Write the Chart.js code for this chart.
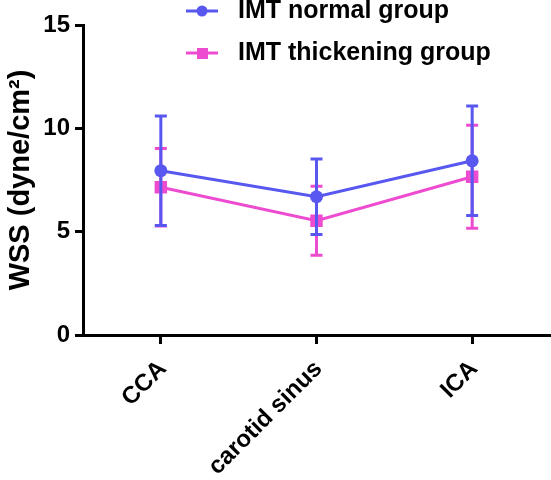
<!DOCTYPE html>
<html lang="en">
<head>
  <meta charset="UTF-8" />
  <script src="https://cdn.jsdelivr.net/npm/chart.js"></script>
  <title>WSS by carotid segment</title>
  <style>
    body { margin: 0; background: #fff; }
  </style>
</head>
<body>
  <canvas id="chart" width="551" height="480"></canvas>
  <script>
    const categories = ['CCA', 'carotid sinus', 'ICA'];
    const normalMean = [7.95, 6.69, 8.43];
    const normalSD = [2.65, 1.83, 2.65];
    const thickMean = [7.15, 5.53, 7.66];
    const thickSD = [1.88, 1.67, 2.49];
    const yTicks = [0, 5, 10, 15];
    const seriesNames = ['IMT normal group', 'IMT thickening group'];

    const BLUE = '#5858f0';
    const PINK = '#ee4cd0';
    const FONT = 'Liberation Sans, Arial, sans-serif';

    // error bars drawn right before each dataset, so the later series sits on top
    const errorBars = {
      id: 'errorBars',
      beforeDatasetDraw(chart, args) {
        const ds = chart.data.datasets[args.index];
        const y = chart.scales.y;
        const ctx = chart.ctx;
        ctx.save();
        ctx.strokeStyle = ds.borderColor;
        ctx.lineWidth = 3;
        args.meta.data.forEach((pt, i) => {
          const top = y.getPixelForValue(ds.data[i] + ds.sd[i]);
          const bot = y.getPixelForValue(ds.data[i] - ds.sd[i]);
          ctx.beginPath();
          ctx.moveTo(pt.x, top); ctx.lineTo(pt.x, bot);
          ctx.moveTo(pt.x - 6, top); ctx.lineTo(pt.x + 6, top);
          ctx.moveTo(pt.x - 6, bot); ctx.lineTo(pt.x + 6, bot);
          ctx.stroke();
        });
        ctx.restore();
      }
    };

    // legend sits over the top of the plot, like in the figure
    const floatLegend = {
      id: 'floatLegend',
      afterDraw(chart) {
        const ctx = chart.ctx;
        const rows = [11, 53];
        ctx.save();
        chart.data.datasets.forEach((ds, i) => {
          const y = rows[i];
          ctx.strokeStyle = ds.borderColor;
          ctx.fillStyle = ds.borderColor;
          ctx.lineWidth = 3;
          ctx.beginPath();
          ctx.moveTo(186, y); ctx.lineTo(218, y);
          ctx.stroke();
          if (ds.pointStyle === 'rect') {
            ctx.fillRect(197, y - 5, 11, 11);
          } else {
            ctx.beginPath();
            ctx.arc(202, y, 5.5, 0, Math.PI * 2);
            ctx.fill();
          }
          ctx.fillStyle = '#000';
          ctx.font = 'bold 25px ' + FONT;
          ctx.textBaseline = 'middle';
          ctx.fillText(ds.label, 238, y);
        });
        ctx.restore();
      }
    };

    new Chart(document.getElementById('chart'), {
      type: 'line',
      data: {
        labels: categories,
        datasets: [
          {
            label: seriesNames[0],
            data: normalMean,
            sd: normalSD,
            borderColor: BLUE,
            backgroundColor: BLUE,
            borderWidth: 3,
            pointStyle: 'circle',
            pointRadius: 6.5,
            pointBorderWidth: 0
          },
          {
            label: seriesNames[1],
            data: thickMean,
            sd: thickSD,
            borderColor: PINK,
            backgroundColor: PINK,
            borderWidth: 3,
            pointStyle: 'rect',
            pointRadius: 8.8,
            pointBorderWidth: 0
          }
        ]
      },
      options: {
        responsive: false,
        animation: false,
        layout: { autoPadding: false, padding: { top: 25, right: 1 } },
        plugins: {
          legend: { display: false },
          tooltip: { enabled: false }
        },
        scales: {
          x: {
            offset: true,
            grid: { drawOnChartArea: false, tickLength: 9, color: '#000', lineWidth: 3 },
            border: { color: '#000', width: 3 },
            ticks: {
              color: '#000',
              font: { family: FONT, size: 24, weight: 'bold' },
              maxRotation: 45,
              minRotation: 45,
              padding: 11,
              labelOffset: 2
            },
            afterFit(scale) {
              scale.height = 145;
              scale.paddingLeft = 0;
              scale.paddingRight = 0;
            }
          },
          y: {
            min: 0,
            max: 15,
            grid: { drawOnChartArea: false, tickLength: 8, color: '#000', lineWidth: 3 },
            border: { color: '#000', width: 3 },
            afterBuildTicks(scale) { scale.ticks = yTicks.map(v => ({ value: v })); },
            ticks: {
              color: '#000',
              font: { family: FONT, size: 24, weight: 'bold' },
              padding: 5
            },
            title: {
              display: true,
              text: 'WSS (dyne/cm²)',
              color: '#000',
              font: { family: FONT, size: 29, weight: 'bold' },
              padding: { top: 4, bottom: 0 }
            },
            afterFit(scale) { scale.width = 83; }
          }
        }
      },
      plugins: [errorBars, floatLegend]
    });
  </script>
</body>
</html>
